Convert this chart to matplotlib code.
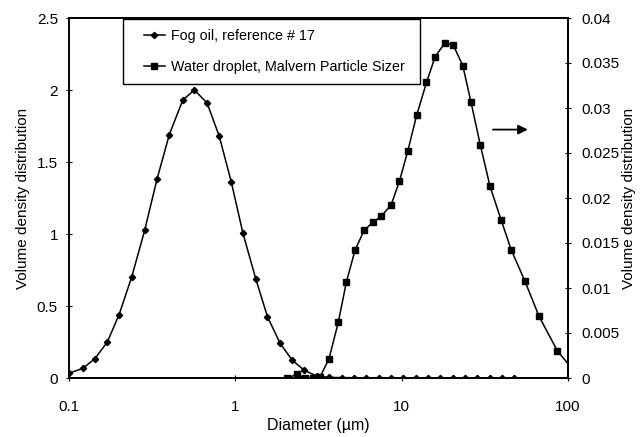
import matplotlib
matplotlib.use("Agg")
import matplotlib.pyplot as plt
from matplotlib.ticker import FixedLocator, NullLocator
from matplotlib.legend_handler import HandlerLine2D

plt.rcParams['font.family'] = ['Liberation Sans', 'DejaVu Sans']

# Fog oil (left axis)
fog_d = [0.1, 0.121, 0.143, 0.170, 0.200, 0.238, 0.285, 0.338, 0.401, 0.483,
         0.567, 0.676, 0.80, 0.946, 1.11, 1.33, 1.56, 1.86, 2.20, 2.60, 3.08,
         3.66, 4.36, 5.17, 6.11, 7.28, 8.64, 10.2, 12.2, 14.4, 17.0, 20.3,
         24.1, 28.5, 33.9, 40.2, 47.6]
fog_v = [0.033, 0.067, 0.134, 0.25, 0.44, 0.70, 1.025, 1.38, 1.69, 1.93,
         2.0, 1.91, 1.68, 1.36, 1.007, 0.685, 0.426, 0.24, 0.123, 0.053, 0.014,
         0.004, 0.003, 0.002, 0.002, 0.002, 0.001, 0.001, 0.001, 0.001, 0.0,
         0.0, 0.0, 0.0, 0.0, 0.0, 0.0]

# Water droplet, Malvern (right axis)
wat_d = [2.055, 2.34, 2.64, 2.94, 3.23, 3.66, 4.16, 4.65, 5.25, 5.94, 6.70,
         7.52, 8.64, 9.69, 10.9, 12.3, 14.1, 15.9, 18.2, 20.4, 23.3, 26.1,
         29.7, 34.0, 39.6, 45.5, 55.0, 67.0, 86.4, 113.0]
wat_v = [0.0, 0.0004, 0.0, 0.0, 0.0001, 0.00216, 0.0062, 0.01065, 0.01423,
         0.01639, 0.01729, 0.01795, 0.01923, 0.02185, 0.02527, 0.02918,
         0.03284, 0.03571, 0.03723, 0.03701, 0.03472, 0.03066, 0.02589,
         0.02128, 0.01758, 0.01427, 0.01079, 0.00685, 0.0030, 0.00042]

left_ticks = [0, 0.5, 1, 1.5, 2, 2.5]
left_labels = ['0', '0.5', '1', '1.5', '2', '2.5']
right_ticks = [0, 0.005, 0.01, 0.015, 0.02, 0.025, 0.03, 0.035, 0.04]
right_labels = ['0', '0.005', '0.01', '0.015', '0.02', '0.025', '0.03', '0.035', '0.04']
x_ticks = [0.1, 1, 10, 100]
x_labels = ['0.1', '1', '10', '100']

fig = plt.figure(figsize=(6.42, 4.37), dpi=100)
ax = fig.add_axes([69/642, 1-378/437, 499/642, 360/437])
ax2 = ax.twinx()

l1, = ax.plot(fog_d, fog_v, color='black', lw=1.1, marker='D', ms=3.2,
              label='Fog oil, reference # 17')
l2, = ax2.plot(wat_d, wat_v, color='black', lw=1.1, marker='s', ms=4,
               label='Water droplet, Malvern Particle Sizer')

ax.set_xscale('log')
ax.set_xlim(0.1, 100)
ax.set_ylim(0, 2.5)
ax2.set_ylim(0, 0.04)
ax.xaxis.set_major_locator(FixedLocator(x_ticks))
ax.xaxis.set_minor_locator(NullLocator())
ax.set_xticklabels(x_labels)
ax.set_yticks(left_ticks)
ax.set_yticklabels(left_labels)
ax2.set_yticks(right_ticks)
ax2.set_yticklabels(right_labels)

for a in (ax, ax2):
    for s in a.spines.values():
        s.set_linewidth(1.2)
        s.set_color('black')
ax.tick_params(axis='y', labelsize=11, length=4, width=0.8, direction='inout', pad=6)
ax.tick_params(axis='x', labelsize=11, length=4, width=0.8, direction='inout', pad=14)
ax2.tick_params(axis='y', labelsize=11, length=5, width=0.8, direction='inout', pad=7)

ax.set_xlabel('Diameter (µm)', fontsize=11.5, labelpad=3)
ax.set_ylabel('Volume density distribution', fontsize=11, labelpad=5)
ax2.set_ylabel('Volume density distribution', fontsize=11, rotation=90, labelpad=2)

hmap = {l1: HandlerLine2D(xpad=0.75), l2: HandlerLine2D(xpad=0.75)}
leg = ax2.legend(handles=[l1, l2], loc='upper left',
                 bbox_to_anchor=(0.108, 0.808, 0.595, 0.19), mode='expand',
                 fontsize=10.3, frameon=True, fancybox=False, edgecolor='black',
                 framealpha=1, handlelength=2.25, handletextpad=0.4,
                 labelspacing=1.2, borderaxespad=0.0, borderpad=0.7,
                 handler_map=hmap)
leg.get_frame().set_linewidth(1.0)

ax2.annotate('', xy=(0.925, 0.69), xytext=(0.844, 0.69), xycoords='axes fraction',
             arrowprops=dict(arrowstyle='-|>', color='black', lw=1.3, mutation_scale=14))

fig.savefig('out.png', dpi=100)
